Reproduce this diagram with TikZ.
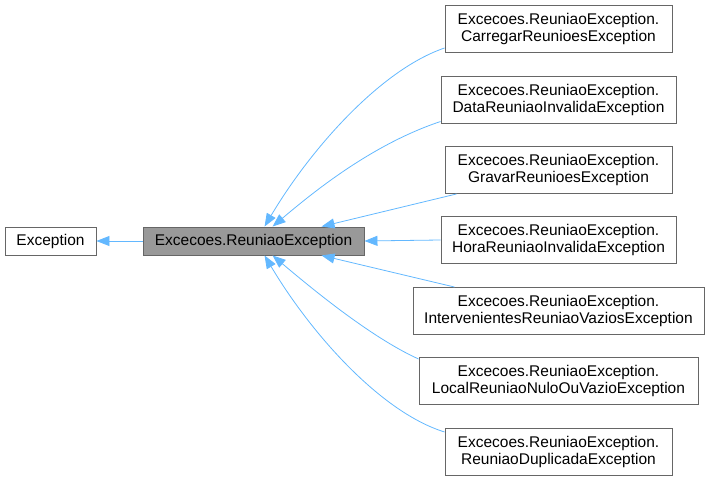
\documentclass[tikz,border=0pt]{standalone}
\usepackage{fontspec}
\setmainfont{Liberation Sans}
\usepackage{tikz}
\usetikzlibrary{arrows.meta,positioning}
\definecolor{edgeblue}{RGB}{99,184,255}
\definecolor{boxline}{RGB}{102,102,102}
\definecolor{curfill}{RGB}{153,153,153}

\begin{document}
\begin{tikzpicture}[x=1pt,y=-1pt,
  every node/.style={font=\fontsize{15.5}{17}\selectfont},
  cls/.style={draw=boxline,line width=0.9pt,fill=white,inner sep=0pt,
              minimum height=28pt,align=center},
  sub/.style={cls,minimum height=47pt},
  cur/.style={cls,fill=curfill},
  edge/.style={{Triangle[length=13pt,width=10pt]}-,edgeblue,line width=0.8pt}]

\useasboundingbox (0,0) rectangle (710,481);

% --- base classes
\node[cls,minimum width=91pt] (exc) at (50.5,241) {Exception};
\node[cur,minimum width=221pt] (rex) at (253.5,241) {Excecoes.ReuniaoException};

% --- derived classes
\foreach \nm/\y/\w/\txt in {car/28.5/227/CarregarReunioesException,
    dat/99.5/235/DataReuniaoInvalidaException,
    grv/170/227/GravarReunioesException,
    hor/240/235/HoraReuniaoInvalidaException,
    int/311/291/IntervenientesReuniaoVaziosException,
    loc/381/279/LocalReuniaoNuloOuVazioException,
    dup/451.5/227/ReuniaoDuplicadaException}{
  \node[sub,minimum width=\w pt] (\nm) at (558.5,\y) {Excecoes.ReuniaoException.\\\txt};
}

% --- inheritance edges
\draw[edge] (exc.east) -- (rex.west);
\draw[edge] ([xshift=122pt]rex.north west) .. controls (310,150) and (380,70) .. ([yshift=-19.5pt]car.west);
\draw[edge] ([xshift=130pt]rex.north west) .. controls (310,195) and (370,145) .. ([yshift=-22pt]dat.west);
\draw[edge] ([xshift=179pt]rex.north west) -- ([xshift=12pt]grv.south west);
\draw[edge] (rex.east) -- (hor.west);
\draw[edge] ([xshift=179pt]rex.south west) -- ([xshift=42pt]int.north west);
\draw[edge] ([xshift=130pt]rex.south west) .. controls (310,287) and (370,337) .. ([yshift=22pt]loc.west);
\draw[edge] ([xshift=122pt]rex.south west) .. controls (310,332) and (380,412) .. ([yshift=19.5pt]dup.west);
\end{tikzpicture}
\end{document}
